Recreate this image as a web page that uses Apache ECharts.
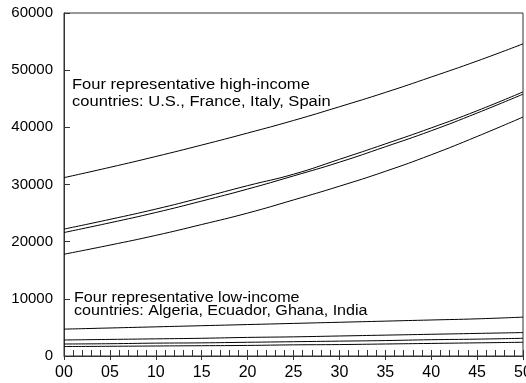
<!DOCTYPE html>
<html>
<head>
<meta charset="utf-8">
<script src="https://cdn.jsdelivr.net/npm/echarts@6/dist/echarts.min.js"></script>
<style>html,body{margin:0;padding:0;background:#fff}#c{width:526px;height:383px}</style>
</head>
<body>
<div id="c"></div>
<script>
const years = [0, 5, 10, 15, 20, 25, 30, 35, 40, 45, 50];
const xTickLabels = ['00','05','10','15','20','25','30','35','40','45','50'];
const yTicks = [0, 10000, 20000, 30000, 40000, 50000, 60000];
const usData     = [31200, 33000, 34900, 36900, 39000, 41200, 43600, 46100, 48800, 51600, 54600];
const franceData = [22200, 23900, 25700, 27700, 29800, 31800, 34400, 37100, 39900, 42900, 46200];
const italyData  = [21600, 23300, 25100, 27100, 29200, 31500, 33900, 36600, 39400, 42500, 45800];
const spainData  = [17800, 19400, 21100, 23000, 25000, 27300, 29700, 32300, 35200, 38400, 41800];
const algeriaData = [4700, 4900, 5100, 5300, 5500, 5700, 5900, 6100, 6300, 6500, 6800];
const ecuadorData = [2800, 2900, 3000, 3100, 3250, 3350, 3500, 3650, 3800, 3950, 4100];
const ghanaData   = [2100, 2150, 2250, 2300, 2400, 2500, 2600, 2700, 2850, 2950, 3100];
const indiaData   = [1650, 1700, 1750, 1800, 1850, 1950, 2000, 2100, 2200, 2300, 2400];
const seriesList = [usData, franceData, italyData, spainData, algeriaData, ecuadorData, ghanaData, indiaData];
const highText = ['Four representative high-income', 'countries: U.S., France, Italy, Spain'];
const lowText = ['Four representative low-income', 'countries: Algeria, Ecuador, Ghana, India'];

const FONT = 'Liberation Sans, Arial, sans-serif';
const chart = echarts.init(document.getElementById('c'), null, {renderer: 'canvas'});
chart.setOption({
  animation: false,
  backgroundColor: '#fff',
  grid: {left: 64, right: 3, top: 13, bottom: 27, show: true, borderColor: '#333', borderWidth: 1,
         containLabel: false, outerBoundsMode: 'none'},
  xAxis: [{
    type: 'value', min: 0, max: 50, interval: 5,
    axisLine: {show: true, lineStyle: {color: '#333', width: 1}},
    axisTick: {show: true, inside: true, length: 6, lineStyle: {color: '#333'}},
    minorTick: {show: true, splitNumber: 5, length: 6, lineStyle: {color: '#333'}},
    splitLine: {show: false},
    axisLabel: {color: '#000', fontSize: 16, fontFamily: FONT, margin: 9, hideOverlap: false,
      formatter: v => xTickLabels[years.indexOf(v)]}
  }, {
    type: 'value', min: 0, max: 50, interval: 5, position: 'bottom',
    axisLine: {show: false},
    axisTick: {show: true, inside: false, length: 4, lineStyle: {color: '#333'}},
    axisLabel: {show: false}, splitLine: {show: false}
  }],
  yAxis: {
    type: 'value', min: yTicks[0], max: yTicks[yTicks.length - 1], interval: 10000,
    axisLine: {show: true, lineStyle: {color: '#333', width: 1}},
    axisTick: {show: true, inside: true, length: 6, lineStyle: {color: '#333'}},
    splitLine: {show: false},
    axisLabel: {color: '#000', fontSize: 15, fontFamily: FONT, margin: 11, formatter: v => String(v)}
  },
  series: seriesList.map(d => ({
    type: 'line', smooth: true, symbol: 'none',
    lineStyle: {color: '#000', width: 1},
    data: d.map((v, i) => [years[i], v])
  })),
  graphic: [
    {type: 'text', x: 72, y: 76.5, scaleX: 1.18,
     style: {text: highText.join('\n'), font: '14px ' + FONT, fill: '#000', lineHeight: 17}},
    {type: 'text', x: 74, y: 291, scaleX: 1.15,
     style: {text: lowText.join('\n'), font: '14px ' + FONT, fill: '#000', lineHeight: 13.5}}
  ]
});
</script>
</body>
</html>
